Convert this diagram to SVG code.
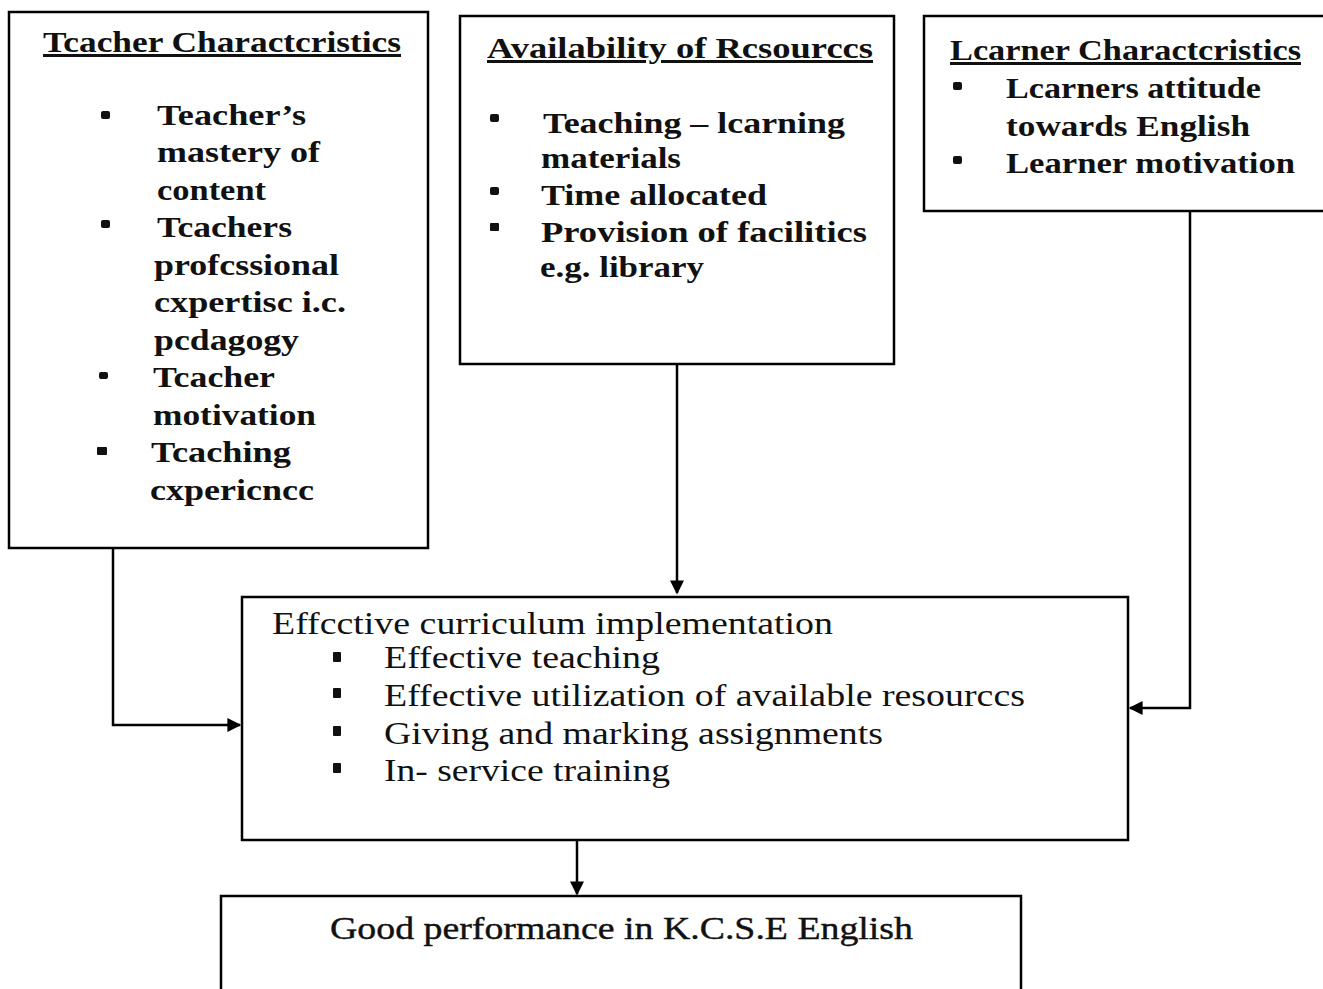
<svg xmlns="http://www.w3.org/2000/svg" width="1323" height="989" viewBox="0 0 1323 989">
<defs>
<style>
.box{fill:none;stroke:#000;stroke-width:2.5}
.t{font-family:'Liberation Serif','Times New Roman',Tinos,Times,serif;font-weight:bold;font-size:30px;fill:#111}
.r{font-family:'Liberation Serif','Times New Roman',Tinos,Times,serif;font-size:32px;fill:#111}
.h{text-decoration:underline}
.b{fill:#111}
.c{fill:none;stroke:#000;stroke-width:2.5}
</style>
<marker id="ah" viewBox="0 0 10 10" refX="9" refY="5" markerWidth="16" markerHeight="14" markerUnits="userSpaceOnUse" orient="auto">
<path d="M0,0 L10,5 L0,10 z" fill="#000"/>
</marker>
</defs>
<rect width="1323" height="989" fill="#fff"/>

<g id="teacher">
<rect class="box" x="9" y="12" width="419" height="536"/>
<text class="t h" x="43" y="52" textLength="358" lengthAdjust="spacingAndGlyphs">Tcacher Charactcristics</text>
<rect class="b" x="101" y="111" width="9" height="8" rx="2"/>
<rect class="b" x="101" y="220" width="9" height="8" rx="2"/>
<rect class="b" x="99" y="372" width="9" height="7" rx="2"/>
<rect class="b" x="97" y="447" width="10" height="8" rx="1"/>
<text class="t" x="157" y="125" textLength="149" lengthAdjust="spacingAndGlyphs">Teacher’s</text>
<text class="t" x="157" y="162" textLength="163" lengthAdjust="spacingAndGlyphs">mastery of</text>
<text class="t" x="157" y="200" textLength="109" lengthAdjust="spacingAndGlyphs">content</text>
<text class="t" x="157" y="237" textLength="135" lengthAdjust="spacingAndGlyphs">Tcachers</text>
<text class="t" x="154" y="275" textLength="185" lengthAdjust="spacingAndGlyphs">profcssional</text>
<text class="t" x="154" y="312" textLength="192" lengthAdjust="spacingAndGlyphs">cxpertisc i.c.</text>
<text class="t" x="154" y="350" textLength="145" lengthAdjust="spacingAndGlyphs">pcdagogy</text>
<text class="t" x="153" y="387" textLength="122" lengthAdjust="spacingAndGlyphs">Tcacher</text>
<text class="t" x="153" y="425" textLength="163" lengthAdjust="spacingAndGlyphs">motivation</text>
<text class="t" x="151" y="462" textLength="140" lengthAdjust="spacingAndGlyphs">Tcaching</text>
<text class="t" x="150" y="500" textLength="164" lengthAdjust="spacingAndGlyphs">cxpericncc</text>
</g>

<g id="resources">
<rect class="box" x="460" y="16" width="434" height="348"/>
<text class="t h" x="487" y="58" textLength="386" lengthAdjust="spacingAndGlyphs">Availability of Rcsourccs</text>
<rect class="b" x="490" y="114" width="9" height="8" rx="2"/>
<rect class="b" x="490" y="187" width="9" height="8" rx="2"/>
<rect class="b" x="490" y="223" width="9" height="8" rx="1"/>
<text class="t" x="543" y="133" textLength="302" lengthAdjust="spacingAndGlyphs">Teaching – lcarning</text>
<text class="t" x="541" y="168" textLength="140" lengthAdjust="spacingAndGlyphs">materials</text>
<text class="t" x="541" y="205" textLength="226" lengthAdjust="spacingAndGlyphs">Time allocated</text>
<text class="t" x="541" y="242" textLength="326" lengthAdjust="spacingAndGlyphs">Provision of facilitics</text>
<text class="t" x="540" y="277" textLength="164" lengthAdjust="spacingAndGlyphs">e.g. library</text>
</g>

<g id="learner">
<rect class="box" x="924" y="16" width="410" height="195"/>
<text class="t h" x="950" y="60" textLength="351" lengthAdjust="spacingAndGlyphs">Lcarner Charactcristics</text>
<rect class="b" x="953" y="82" width="9" height="8" rx="2"/>
<rect class="b" x="953" y="156" width="9" height="8" rx="2"/>
<text class="t" x="1006" y="98" textLength="255" lengthAdjust="spacingAndGlyphs">Lcarners attitude</text>
<text class="t" x="1006" y="136" textLength="244" lengthAdjust="spacingAndGlyphs">towards English</text>
<text class="t" x="1006" y="173" textLength="289" lengthAdjust="spacingAndGlyphs">Learner motivation</text>
</g>

<g id="implementation">
<rect class="box" x="242" y="597" width="886" height="243"/>
<text class="r" x="272" y="634" textLength="561" lengthAdjust="spacingAndGlyphs">Effcctive curriculum implementation</text>
<rect class="b" x="333" y="652" width="8" height="10" rx="1"/>
<rect class="b" x="333" y="688" width="8" height="10" rx="1"/>
<rect class="b" x="333" y="726" width="8" height="10" rx="1"/>
<rect class="b" x="333" y="763" width="8" height="10" rx="1"/>
<text class="r" x="384" y="668" textLength="276" lengthAdjust="spacingAndGlyphs">Effective teaching</text>
<text class="r" x="384" y="706" textLength="641" lengthAdjust="spacingAndGlyphs">Effective utilization of available resourccs</text>
<text class="r" x="384" y="744" textLength="499" lengthAdjust="spacingAndGlyphs">Giving and marking assignments</text>
<text class="r" x="384" y="781" textLength="286" lengthAdjust="spacingAndGlyphs">In- service training</text>
</g>

<g id="performance">
<rect class="box" x="221" y="896" width="800" height="120"/>
<text class="r" x="330" y="939" textLength="583" lengthAdjust="spacingAndGlyphs" style="font-size:31px;stroke:#111;stroke-width:0.4">Good performance in K.C.S.E English</text>
</g>

<g id="connectors">
<polyline class="c" points="113,548 113,725 240,725" marker-end="url(#ah)"/>
<polyline class="c" points="677,364 677,593" marker-end="url(#ah)"/>
<polyline class="c" points="1190,211 1190,708 1130,708" marker-end="url(#ah)"/>
<polyline class="c" points="577,840 577,894" marker-end="url(#ah)"/>
</g>
</svg>
